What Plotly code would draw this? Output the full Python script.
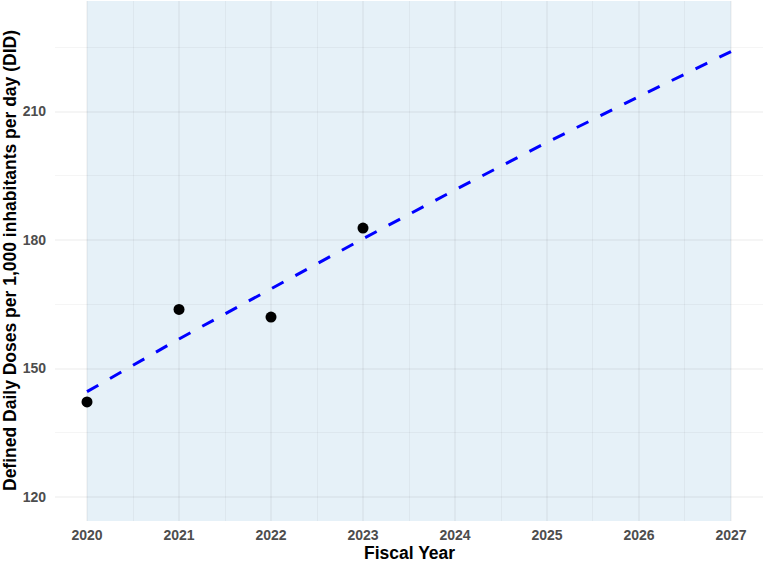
import plotly.graph_objects as go

# Observed data
years = [2020, 2021, 2022, 2023]
did_values = [142.2, 163.8, 162.0, 182.8]

# Trend line
trend_years = [2020, 2021, 2022, 2023, 2024, 2025, 2026, 2027]
trend_values = [144.6, 156.9, 168.6, 180.3, 191.7, 202.8, 213.5, 224.0]

x_ticks = [2020, 2021, 2022, 2023, 2024, 2025, 2026, 2027]
y_ticks = [120, 150, 180, 210]

shade_start, shade_end = 2020, 2027

FONT = "Liberation Sans, Arial, sans-serif"
GRID = "rgba(0,0,0,0.04)"

fig = go.Figure()

fig.add_shape(type="rect", xref="x", yref="paper",
              x0=shade_start, x1=shade_end, y0=0, y1=1,
              fillcolor="#E6F1F8", line=dict(width=0),
              layer="below")

fig.add_trace(go.Scatter(x=trend_years, y=trend_values, mode="lines",
                         line=dict(color="#0000FF", width=3, dash="13px,13.5px"),
                         hoverinfo="skip", showlegend=False))

fig.add_trace(go.Scatter(x=years, y=did_values, mode="markers",
                         marker=dict(color="black", size=11),
                         showlegend=False))

fig.update_layout(
    width=765, height=562,
    margin=dict(l=55, r=2, t=1, b=41),
    paper_bgcolor="white", plot_bgcolor="rgba(0,0,0,0)",
    font=dict(family=FONT),
    showlegend=False,
)

fig.update_xaxes(
    range=[2019.652, 2027.348],
    tickmode="array", tickvals=x_ticks, ticktext=[str(v) for v in x_ticks],
    tickfont=dict(family=FONT, size=14, color="#4D4D4D", weight="bold"),
    showgrid=True, gridcolor=GRID, gridwidth=1.5,
    minor=dict(tickmode="linear", tick0=2019.5, dtick=1, showgrid=True,
               gridcolor=GRID, gridwidth=0.8),
    zeroline=False, showline=False, ticks="",
    ticklabelstandoff=4,
)

fig.update_yaxes(
    range=[114.4, 235.8],
    tickmode="array", tickvals=y_ticks, ticktext=[str(v) for v in y_ticks],
    tickfont=dict(family=FONT, size=14, color="#4D4D4D", weight="bold"),
    showgrid=True, gridcolor=GRID, gridwidth=1.5,
    minor=dict(tickmode="linear", tick0=135, dtick=30, showgrid=True,
               gridcolor=GRID, gridwidth=0.8),
    zeroline=False, showline=False, ticks="",
    ticklabelstandoff=8,
)

fig.add_annotation(text="<b>Fiscal Year</b>", xref="paper", yref="paper",
                   x=0.5, y=0, xanchor="center", yanchor="middle",
                   yshift=-32, showarrow=False, borderpad=0,
                   font=dict(family=FONT, size=17.5, color="black"))

fig.add_annotation(text="<b>Defined Daily Doses per 1,000 inhabitants per day (DID)</b>",
                   xref="paper", yref="paper", x=0, y=0.5,
                   xanchor="center", yanchor="middle", xshift=-45,
                   textangle=-90, showarrow=False,
                   font=dict(family=FONT, size=17.5, color="black"))

fig.write_html("out.html")
